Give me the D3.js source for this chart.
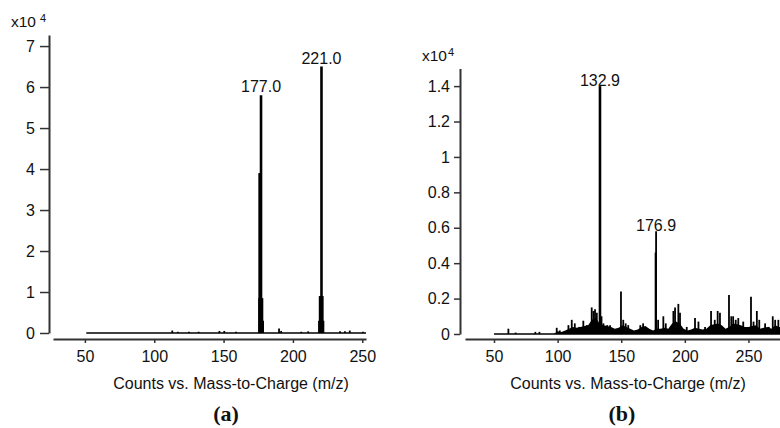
<!DOCTYPE html>
<html lang="en">
<head>
    <meta charset="UTF-8">
    <title>Mass spectra</title>
    <script src="https://d3js.org/d3.v7.min.js"></script>
    <style>
        body { margin: 0; background: #fff; }
        text { font-family: "Liberation Sans", Arial, sans-serif; fill: #111; }
    </style>
</head>
<body>
    <div id="chart"></div>

    <script>
        // panel (a): stick intensities, x10^4 counts
        const mzA = [113, 117, 125, 132, 147, 150.5, 159, 175.6, 176.0, 176.5, 177.0, 177.5, 178.0, 178.5, 190, 191.5, 206, 211,
                     218.8, 219.3, 219.8, 220.3, 220.6, 221.0, 221.5, 222.0, 234, 237.5, 241, 250.5];
        const intA = [0.06, 0.03, 0.03, 0.03, 0.05, 0.05, 0.03, 0.85, 3.9, 3.9, 5.8, 0.85, 0.85, 0.3, 0.11, 0.05, 0.03, 0.04,
                      0.3, 0.9, 0.9, 0.9, 6.5, 0.9, 0.9, 0.3, 0.04, 0.04, 0.06, 0.03];
        const labelsA = [{ mz: 177.0, v: 5.8, text: "177.0" }, { mz: 220.6, v: 6.5, text: "221.0" }];

        // panel (b): stick intensities, x10^4 counts
        const mzB = [61.3, 67, 82.5, 85.7, 99.3, 101.7, 108.5, 111.1, 113.5, 117, 120.2, 123, 126.8, 128.2, 129.4, 130.8, 133.3,
                     134.5, 136, 139, 141.2, 149.8, 151.6, 153.5, 155.5, 165, 167.2, 171.1, 177.0, 177.4, 179, 183.1, 185,
                     191, 192.3, 194.9, 196.2, 201.5, 208, 210.7, 215.9, 220.6, 223.5, 225.8, 227.6, 234.7, 236.5, 238,
                     240, 242, 245.9, 252, 254, 256.6, 258.5, 263.1, 266, 269.1, 271, 273.5];
        const intB = [0.03, 0.008, 0.012, 0.012, 0.035, 0.02, 0.05, 0.08, 0.06, 0.04, 0.075, 0.05, 0.15, 0.13, 0.14, 0.12, 1.4,
                      0.1, 0.06, 0.05, 0.05, 0.24, 0.08, 0.06, 0.05, 0.05, 0.06, 0.03, 0.46, 0.58, 0.08, 0.1, 0.06,
                      0.13, 0.15, 0.17, 0.12, 0.04, 0.09, 0.07, 0.04, 0.13, 0.08, 0.13, 0.12, 0.22, 0.1, 0.1,
                      0.08, 0.09, 0.07, 0.21, 0.07, 0.13, 0.08, 0.06, 0.04, 0.1, 0.08, 0.08];
        // low level background ("grass") under panel (b)
        const grassMzB = [50, 97, 100, 103, 106, 109, 112, 115, 118, 121, 124, 127, 130, 133, 136, 139, 142, 145, 148, 151, 154,
                          157, 160, 163, 166, 169, 172, 175, 178, 181, 184, 187, 190, 193, 196, 199, 202, 205, 208, 211,
                          214, 217, 220, 223, 226, 229, 232, 235, 238, 241, 244, 247, 250, 253, 256, 259, 262, 265, 268,
                          271, 274, 276];
        const grassB = [0, 0, 0.015, 0.012, 0.02, 0.03, 0.04, 0.035, 0.04, 0.045, 0.05, 0.08, 0.09, 0.06, 0.05, 0.045, 0.04,
                        0.03, 0.035, 0.05, 0.04, 0.03, 0.02, 0.025, 0.04, 0.045, 0.03, 0.02, 0.03, 0.03, 0.035, 0.03,
                        0.06, 0.07, 0.06, 0.03, 0.02, 0.025, 0.035, 0.03, 0.025, 0.03, 0.05, 0.055, 0.06, 0.05, 0.03,
                        0.04, 0.06, 0.055, 0.05, 0.04, 0.04, 0.045, 0.05, 0.03, 0.035, 0.04, 0.03, 0.05, 0.04, 0.04];
        const labelsB = [{ mz: 133.3, v: 1.4, text: "132.9" }, { mz: 177.4, v: 0.58, text: "176.9" }];

        const xTicks = [50, 100, 150, 200, 250];
        const yTicksA = [0, 1, 2, 3, 4, 5, 6, 7];
        const yTicksB = [0, 0.2, 0.4, 0.6, 0.8, 1, 1.2, 1.4];

        const width = 780, height = 428;
        const svg = d3.select("#chart").append("svg")
            .attr("width", width)
            .attr("height", height);

        function drawPanel(opt) {
            const g = svg.append("g");
            const x = d3.scaleLinear().domain(opt.xDomain).range(opt.xRange);
            const y = d3.scaleLinear().domain(opt.yDomain).range(opt.yRange);

            // y axis
            const ya = g.append("g")
                .attr("transform", `translate(${opt.yAxisX},0)`)
                .call(d3.axisLeft(y).tickValues(opt.yTicks).tickSize(opt.yTickSize).tickSizeOuter(0)
                    .tickPadding(opt.yPad).tickFormat(d3.format("~g")));
            // x axis sits a little below the zero line
            const xa = g.append("g")
                .attr("transform", `translate(0,${opt.xAxisY})`)
                .call(d3.axisBottom(x).tickValues(xTicks).tickSize(4).tickSizeOuter(0).tickPadding(8));

            [ya, xa].forEach(a => {
                a.select(".domain").attr("stroke", "#333").attr("stroke-width", 2);
                a.selectAll(".tick line").attr("stroke", "#333").attr("stroke-width", 1.5);
                a.selectAll(".tick text").attr("font-size", 16).attr("fill", "#111")
                    .attr("font-family", '"Liberation Sans", Arial, sans-serif');
            });

            // baseline of the spectrum
            g.append("line")
                .attr("x1", x(opt.baseFrom)).attr("x2", x(opt.baseTo))
                .attr("y1", y(0)).attr("y2", y(0))
                .attr("stroke", "#000").attr("stroke-width", 1.5);

            if (opt.grassMz) {
                const area = d3.area()
                    .x((d, i) => x(opt.grassMz[i]))
                    .y0(y(0))
                    .y1(d => y(d));
                g.append("path")
                    .datum(opt.grass)
                    .attr("d", area)
                    .attr("fill", "#000");
            }

            g.selectAll(".stick")
                .data(opt.mz.map((m, i) => ({ mz: m, v: opt.int[i] })))
                .enter().append("line")
                .attr("class", "stick")
                .attr("x1", d => x(d.mz)).attr("x2", d => x(d.mz))
                .attr("y1", y(0)).attr("y2", d => y(d.v))
                .attr("stroke", "#000")
                .attr("stroke-width", d => d.v > 1 ? 2.6 : 1.8);

            g.selectAll(".peak-label")
                .data(opt.labels)
                .enter().append("text")
                .attr("class", "peak-label")
                .attr("x", d => x(d.mz))
                .attr("y", d => y(d.v) - opt.labelGap)
                .attr("text-anchor", "middle")
                .attr("font-size", 16)
                .text(d => d.text);

            // exponent label
            const ex = g.append("text")
                .attr("x", opt.expX).attr("y", opt.expY)
                .attr("font-size", 15.5);
            ex.append("tspan").text("x10");
            ex.append("tspan").attr("dx", opt.expGap).attr("dy", -5).attr("font-size", 11).text("4");

            g.append("text")
                .attr("x", opt.titleX).attr("y", 389)
                .attr("text-anchor", "middle")
                .attr("font-size", 16)
                .text("Counts vs. Mass-to-Charge (m/z)");

            g.append("text")
                .attr("x", opt.tagX).attr("y", 421)
                .attr("text-anchor", "middle")
                .attr("font-weight", "bold")
                .attr("font-size", 22)
                .style("font-family", '"Liberation Serif", "Times New Roman", serif')
                .text(opt.tag);
        }

        drawPanel({
            xDomain: [27, 252.7], xRange: [53, 366],
            yDomain: [0, 7.27], yRange: [333, 35],
            yAxisX: 49, xAxisY: 339, yTicks: yTicksA, yTickSize: 9, yPad: 5,
            baseFrom: 51, baseTo: 252.7,
            mz: mzA, int: intA, labels: labelsA, labelGap: 3,
            expX: 11, expY: 27, expGap: 4,
            titleX: 231, tagX: 226, tag: "(a)"
        });

        drawPanel({
            xDomain: [27.2, 274.8], xRange: [465, 780],
            yDomain: [0, 1.5], yRange: [334, 68.4],
            yAxisX: 460, xAxisY: 339, yTicks: yTicksB, yTickSize: 6, yPad: 4,
            baseFrom: 50, baseTo: 274.8,
            mz: mzB, int: intB, labels: labelsB, grassMz: grassMzB, grass: grassB, labelGap: 0,
            expX: 422, expY: 61, expGap: 1,
            titleX: 628, tagX: 622, tag: "(b)"
        });
    </script>
</body>
</html>
